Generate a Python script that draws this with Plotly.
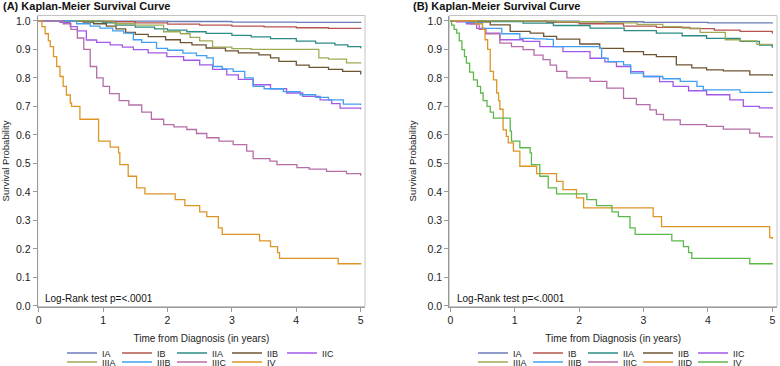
import plotly.graph_objects as go

# ---------------- Data ----------------
stages_A = ["IA", "IB", "IIA", "IIB", "IIC", "IIIA", "IIIB", "IIIC", "IV"]
stages_B = ["IA", "IB", "IIA", "IIB", "IIC", "IIIA", "IIIB", "IIIC", "IIID", "IV"]

# Panel A
A_IA_t = [0, 1.0, 2.0, 3.0, 4.0, 5.0]
A_IA_s = [1.0, 0.999, 0.998, 0.996, 0.995, 0.993]
A_IB_t = [0, 0.5, 1.0, 1.5, 2.0, 2.5, 3.0, 3.5, 4.0, 4.5, 5.0]
A_IB_s = [1.0, 0.999, 0.997, 0.993, 0.989, 0.985, 0.982, 0.979, 0.976, 0.974, 0.972]
A_IIA_t = [0, 0.8, 1.0, 1.2, 1.5, 1.8, 2.0, 2.3, 2.6, 3.0, 3.3, 3.6, 4.0, 4.3, 4.6, 4.8, 5.0]
A_IIA_s = [1.0, 0.998, 0.993, 0.985, 0.978, 0.972, 0.968, 0.962, 0.956, 0.949, 0.944, 0.938, 0.929, 0.922, 0.916, 0.910, 0.904]
A_IIB_t = [0, 0.69, 0.85, 1.05, 1.2, 1.35, 1.5, 1.7, 1.97, 2.2, 2.38, 2.6, 2.9, 3.1, 3.42, 3.6, 3.73, 4.0, 4.2, 4.5, 4.72, 5.0]
A_IIB_s = [1.0, 0.996, 0.99, 0.982, 0.972, 0.96, 0.953, 0.945, 0.934, 0.924, 0.916, 0.905, 0.895, 0.888, 0.881, 0.87, 0.858, 0.845, 0.837, 0.83, 0.823, 0.812]
A_IIC_t = [0, 0.33, 0.49, 0.6, 0.74, 0.9, 1.11, 1.3, 1.47, 1.7, 1.99, 2.25, 2.5, 2.7, 2.92, 3.1, 3.33, 3.6, 3.85, 4.1, 4.37, 4.55, 4.68, 5.0]
A_IIC_s = [1.0, 0.995, 0.98, 0.965, 0.933, 0.925, 0.916, 0.908, 0.899, 0.888, 0.875, 0.862, 0.846, 0.83, 0.811, 0.795, 0.776, 0.762, 0.747, 0.735, 0.723, 0.71, 0.694, 0.69]
A_IIIA_t = [0, 1.17, 1.5, 1.94, 2.2, 2.35, 2.5, 2.7, 3.0, 3.3, 4.35, 4.5, 4.78, 5.0]
A_IIIA_s = [1.0, 0.99, 0.985, 0.962, 0.955, 0.942, 0.930, 0.908, 0.903, 0.900, 0.870, 0.866, 0.853, 0.851]
A_IIIB_t = [0, 0.59, 0.8, 0.95, 1.15, 1.32, 1.47, 1.6, 1.83, 2.0, 2.24, 2.45, 2.61, 2.71, 2.85, 3.02, 3.2, 3.33, 3.5, 3.8, 4.06, 4.3, 4.5, 4.73, 5.0]
A_IIIB_s = [1.0, 0.99, 0.982, 0.975, 0.965, 0.957, 0.934, 0.925, 0.904, 0.897, 0.887, 0.878, 0.870, 0.84, 0.832, 0.823, 0.80, 0.77, 0.762, 0.752, 0.741, 0.732, 0.723, 0.708, 0.705]
A_IIIC_t = [0, 0.38, 0.5, 0.6, 0.7, 0.8, 0.9, 1.0, 1.1, 1.25, 1.4, 1.6, 1.75, 1.94, 2.1, 2.3, 2.45, 2.61, 2.8, 3.02, 3.23, 3.33, 3.59, 3.7, 4.01, 4.2, 4.47, 4.78, 5.0]
A_IIIC_s = [1.0, 0.99, 0.97, 0.94, 0.90, 0.84, 0.80, 0.77, 0.745, 0.72, 0.705, 0.68, 0.655, 0.636, 0.628, 0.619, 0.605, 0.59, 0.578, 0.566, 0.543, 0.517, 0.508, 0.496, 0.485, 0.48, 0.472, 0.464, 0.457]
A_IV_t = [0, 0.05, 0.1, 0.15, 0.18, 0.23, 0.28, 0.33, 0.38, 0.43, 0.49, 0.51, 0.64, 0.93, 1.11, 1.24, 1.26, 1.39, 1.52, 1.65, 2.12, 2.27, 2.5, 2.61, 2.79, 2.85, 3.43, 3.6, 3.71, 3.74, 4.65, 5.0]
A_IV_s = [1.0, 0.98, 0.955, 0.93, 0.91, 0.875, 0.84, 0.805, 0.77, 0.74, 0.712, 0.70, 0.655, 0.578, 0.557, 0.537, 0.496, 0.455, 0.414, 0.393, 0.373, 0.352, 0.33, 0.313, 0.274, 0.251, 0.228, 0.208, 0.187, 0.167, 0.148, 0.145]

# Panel B
B_IA_t = [0, 1, 2, 3, 4, 5]
B_IA_s = [1.0, 0.999, 0.997, 0.995, 0.993, 0.991]
B_IB_t = [0, 1.0, 1.5, 2.0, 2.69, 3.2, 3.72, 4.1, 4.5, 5.0]
B_IB_s = [1.0, 0.999, 0.995, 0.99, 0.982, 0.977, 0.973, 0.968, 0.963, 0.956]
B_IIA_t = [0, 0.5, 1.13, 1.6, 2.17, 2.7, 3.2, 3.6, 3.98, 4.5, 4.8, 5.0]
B_IIA_s = [1.0, 0.998, 0.992, 0.984, 0.975, 0.966, 0.957, 0.948, 0.939, 0.928, 0.915, 0.906]
B_IIB_t = [0, 0.3, 0.62, 0.93, 1.24, 1.45, 1.65, 2.01, 2.32, 2.69, 3.0, 3.2, 3.51, 3.75, 3.98, 4.24, 4.65, 5.0]
B_IIB_s = [1.0, 0.997, 0.986, 0.963, 0.957, 0.946, 0.936, 0.919, 0.904, 0.892, 0.882, 0.875, 0.846, 0.835, 0.828, 0.825, 0.811, 0.807]
B_IIC_t = [0, 0.1, 0.25, 0.41, 0.55, 0.77, 1.13, 1.39, 1.75, 2.17, 2.4, 2.58, 2.8, 3.0, 3.25, 3.46, 3.7, 3.98, 4.34, 4.55, 4.8, 5.0]
B_IIC_s = [1.0, 0.997, 0.99, 0.974, 0.957, 0.934, 0.928, 0.91, 0.892, 0.869, 0.856, 0.84, 0.822, 0.805, 0.787, 0.770, 0.755, 0.741, 0.723, 0.70, 0.695, 0.692]
B_IIIA_t = [0, 1.65, 2.4, 2.9, 3.3, 3.6, 3.88, 4.27, 4.5, 4.76, 5.0]
B_IIIA_s = [1.0, 0.997, 0.993, 0.988, 0.98, 0.975, 0.96, 0.934, 0.93, 0.918, 0.917]
B_IIIB_t = [0, 0.25, 0.5, 0.8, 1.08, 1.3, 1.5, 1.6, 2.32, 2.35, 2.45, 2.69, 2.8, 3.0, 3.3, 3.57, 3.83, 3.93, 4.5, 5.0]
B_IIIB_s = [1.0, 0.994, 0.974, 0.955, 0.939, 0.937, 0.935, 0.91, 0.904, 0.869, 0.857, 0.846, 0.817, 0.805, 0.797, 0.788, 0.770, 0.758, 0.749, 0.748]
B_IIIC_t = [0, 0.31, 0.45, 0.55, 0.77, 0.95, 1.13, 1.3, 1.44, 1.55, 1.65, 1.81, 2.17, 2.43, 2.69, 2.89, 3.1, 3.2, 3.31, 3.57, 3.98, 4.24, 4.65, 4.8, 5.0]
B_IIIC_s = [1.0, 0.99, 0.97, 0.955, 0.922, 0.91, 0.899, 0.88, 0.864, 0.845, 0.823, 0.80, 0.788, 0.764, 0.728, 0.706, 0.688, 0.672, 0.653, 0.636, 0.630, 0.62, 0.606, 0.593, 0.59]
B_IIID_t = [0, 0.4, 0.5, 0.54, 0.58, 0.62, 0.67, 0.72, 0.75, 0.77, 0.82, 0.87, 0.9, 0.98, 1.08, 1.34, 1.65, 1.75, 1.96, 2.07, 3.15, 3.28, 4.96, 5.0]
B_IIID_s = [1.0, 0.99, 0.97, 0.934, 0.90, 0.823, 0.793, 0.747, 0.72, 0.69, 0.618, 0.595, 0.572, 0.543, 0.49, 0.464, 0.437, 0.408, 0.379, 0.344, 0.313, 0.278, 0.24, 0.235]
B_IV_t = [0, 0.02, 0.06, 0.1, 0.14, 0.18, 0.22, 0.25, 0.3, 0.36, 0.42, 0.47, 0.51, 0.57, 0.62, 0.67, 0.93, 0.95, 1.08, 1.24, 1.26, 1.39, 1.52, 1.65, 2.12, 2.27, 2.51, 2.61, 2.79, 2.87, 3.44, 3.62, 3.7, 3.75, 4.65, 5.0]
B_IV_s = [1.0, 0.985, 0.97, 0.957, 0.93, 0.899, 0.875, 0.852, 0.82, 0.793, 0.77, 0.747, 0.72, 0.70, 0.68, 0.659, 0.613, 0.578, 0.555, 0.537, 0.496, 0.455, 0.414, 0.393, 0.373, 0.352, 0.33, 0.313, 0.274, 0.251, 0.228, 0.208, 0.187, 0.167, 0.148, 0.145]

y_ticks = [0.0, 0.1, 0.2, 0.3, 0.4, 0.5, 0.6, 0.7, 0.8, 0.9, 1.0]
x_ticks = [0, 1, 2, 3, 4, 5]

series_A = {
    "IA": (A_IA_t, A_IA_s), "IB": (A_IB_t, A_IB_s), "IIA": (A_IIA_t, A_IIA_s),
    "IIB": (A_IIB_t, A_IIB_s), "IIC": (A_IIC_t, A_IIC_s), "IIIA": (A_IIIA_t, A_IIIA_s),
    "IIIB": (A_IIIB_t, A_IIIB_s), "IIIC": (A_IIIC_t, A_IIIC_s), "IV": (A_IV_t, A_IV_s),
}
series_B = {
    "IA": (B_IA_t, B_IA_s), "IB": (B_IB_t, B_IB_s), "IIA": (B_IIA_t, B_IIA_s),
    "IIB": (B_IIB_t, B_IIB_s), "IIC": (B_IIC_t, B_IIC_s), "IIIA": (B_IIIA_t, B_IIIA_s),
    "IIIB": (B_IIIB_t, B_IIIB_s), "IIIC": (B_IIIC_t, B_IIIC_s), "IIID": (B_IIID_t, B_IIID_s),
    "IV": (B_IV_t, B_IV_s),
}

colors_A = {"IA": "#6b7bb8", "IB": "#b5544c", "IIA": "#2b8c84", "IIB": "#6e5433",
            "IIC": "#a259e8", "IIIA": "#a0aa55", "IIIB": "#3fa0f0", "IIIC": "#b56ea8",
            "IV": "#dd9527"}
colors_B = dict(colors_A)
colors_B["IIID"] = "#dd9527"
colors_B["IV"] = "#5cb84a"

FONT = "Liberation Sans, Arial, sans-serif"
fig = go.Figure()

def add_panel(series, order, colors, xa, ya, legends):
    for i, name in enumerate(order):
        t, s = series[name]
        fig.add_trace(go.Scatter(
            x=t, y=s, mode="lines", name=name, line_shape="hv",
            line=dict(color=colors[name], width=1.3),
            xaxis=xa, yaxis=ya, legend=legends[0] if i < 5 else legends[1],
            hoverinfo="skip"))

add_panel(series_A, stages_A, colors_A, "x", "y", ("legend", "legend2"))
add_panel(series_B, stages_B, colors_B, "x2", "y2", ("legend3", "legend4"))

H = 366.0
W = 780.0
y_dom = [(H - 306.5) / H, (H - 15.5) / H]
axis_common = dict(showgrid=False, zeroline=False, showline=True, linecolor="#9a9a9a",
                   linewidth=1, ticks="outside", ticklen=4, tickcolor="#9a9a9a",
                   automargin=False,
                   tickfont=dict(family=FONT, size=10.5, color="#222"))
xtitle = dict(text="Time from Diagnosis (in years)", standoff=9,
              font=dict(family=FONT, size=10, color="#222"))
ytitle = dict(text="Survival Probability", standoff=9,
              font=dict(family=FONT, size=9.5, color="#222"))

fig.update_layout(
    template="none",
    width=780, height=366, margin=dict(l=0, r=0, t=0, b=0, autoexpand=False),
    paper_bgcolor="white", plot_bgcolor="white",
    xaxis=dict(domain=[37.7 / W, 365 / W], range=[-0.0155, 5.067], tickvals=x_ticks,
               anchor="y", title=xtitle, **axis_common),
    yaxis=dict(domain=y_dom, range=[-0.002, 1.019], tickvals=y_ticks, tickformat=".1f",
               anchor="x", title=ytitle, **axis_common),
    xaxis2=dict(domain=[449.3 / W, 777 / W], range=[-0.0155, 5.073], tickvals=x_ticks,
                anchor="y2", title=xtitle, **axis_common),
    yaxis2=dict(domain=y_dom, range=[-0.002, 1.019], tickvals=y_ticks, tickformat=".1f",
                anchor="x2", title=ytitle, **axis_common),
    showlegend=True,
)

leg_common = dict(orientation="h", entrywidth=10, entrywidthmode="pixels",
                  bgcolor="rgba(0,0,0,0)", font=dict(family=FONT, size=9, color="#222"),
                  xanchor="left", yanchor="middle", itemclick=False, itemdoubleclick=False,
                  tracegroupgap=0)
fig.update_layout(
    legend=dict(x=62 / W, y=(H - 353) / H, **leg_common),
    legend2=dict(x=62 / W, y=(H - 362) / H, **leg_common),
    legend3=dict(x=473 / W, y=(H - 353) / H, **leg_common),
    legend4=dict(x=473 / W, y=(H - 362) / H, **leg_common),
)

# frame (top/right, lighter) for both panels
for xr, yr in (("x domain", "y domain"), ("x2 domain", "y2 domain")):
    fig.add_shape(type="rect", xref=xr, yref=yr, x0=0, x1=1, y0=0, y1=1,
                  line=dict(color="#c4c4c4", width=1), layer="below")

# titles and log-rank annotations
fig.add_annotation(text="<b>(A) Kaplan-Meier Survival Curve</b>", xref="paper", yref="paper",
                   x=1 / W, y=(H - 6) / H, xanchor="left", yanchor="middle", showarrow=False,
                   font=dict(family=FONT, size=11, color="#111"))
fig.add_annotation(text="<b>(B) Kaplan-Meier Survival Curve</b>", xref="paper", yref="paper",
                   x=411 / W, y=(H - 6) / H, xanchor="left", yanchor="middle", showarrow=False,
                   font=dict(family=FONT, size=11, color="#111"))
fig.add_annotation(text="Log-Rank test p=<.0001", xref="paper", yref="paper",
                   x=43 / W, y=(H - 298) / H, xanchor="left", yanchor="middle", showarrow=False,
                   font=dict(family=FONT, size=10, color="#111"))
fig.add_annotation(text="Log-Rank test p=<.0001", xref="paper", yref="paper",
                   x=455 / W, y=(H - 298) / H, xanchor="left", yanchor="middle", showarrow=False,
                   font=dict(family=FONT, size=10, color="#111"))

fig.write_html("out.html", config={"displayModeBar": False},
               post_script="document.body.style.margin='0';document.body.style.overflow='hidden';")
